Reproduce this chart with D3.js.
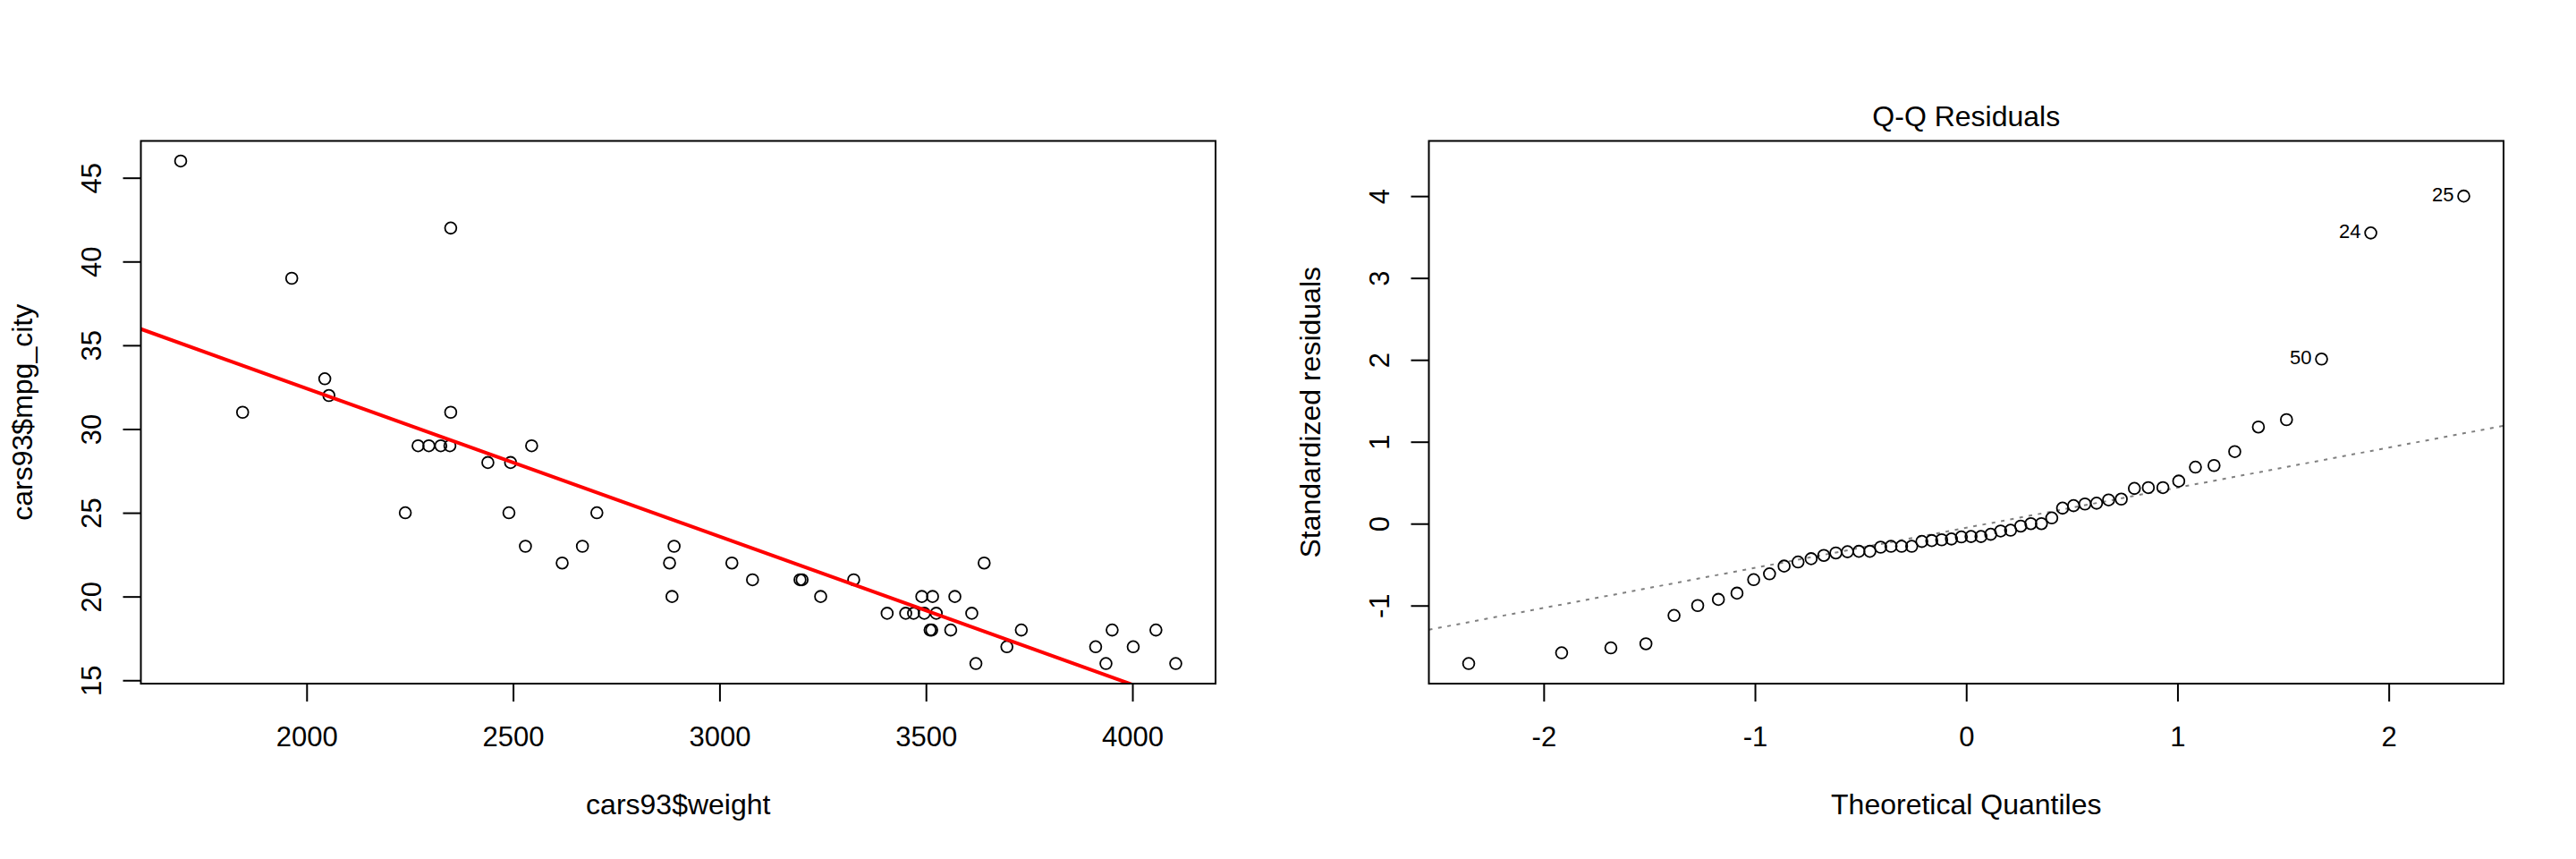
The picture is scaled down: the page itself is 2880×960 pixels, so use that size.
<!DOCTYPE html>
<html>
<head>
<meta charset="utf-8">
<script src="https://cdn.jsdelivr.net/npm/d3@7"></script>
<style>
    body { margin: 0; background: #fff; }
    svg { display: block; }
</style>
</head>
<body>
<svg id="chart" width="2880" height="960"></svg>
<script>
// scatter: cars93$weight vs cars93$mpg_city
const weight = [1695, 1964, 1845, 2044, 2054, 2349, 2349, 2239, 2270, 2296, 2325, 2347, 2439, 2494, 2545,
    2490, 2530, 2619, 2668, 2703, 2890, 2879, 2885, 3030, 3080, 3195, 3200, 3245, 3325, 3406,
    3451, 3470, 3490, 3496, 3516, 3525, 3510, 3514, 3560, 3570, 3611, 3621, 3641, 3696, 3731,
    3911, 3936, 3951, 4002, 4057, 4105];
const mpgCity = [46, 39, 31, 33, 32, 42, 31, 25, 29, 29, 29, 29, 28, 28, 29,
    25, 23, 22, 23, 25, 23, 22, 20, 22, 21, 21, 21, 20, 21, 19,
    19, 19, 20, 19, 20, 19, 18, 18, 18, 20, 19, 16, 22, 17, 18,
    17, 16, 18, 17, 18, 16];
// lm(mpg_city ~ weight): intercept, slope
const fitCoef = [50.1, -0.00884];

const weightTicks = [2000, 2500, 3000, 3500, 4000];
const mpgTicks = [15, 20, 25, 30, 35, 40, 45];

// Q-Q residuals
const theoQuantiles = [-2.355, -1.915, -1.682, -1.516, -1.383, -1.271, -1.173, -1.085, -1.006, -0.931,
    -0.862, -0.796, -0.734, -0.674, -0.617, -0.562, -0.508, -0.456, -0.405, -0.356,
    -0.306, -0.258, -0.210, -0.163, -0.116, -0.070, -0.023, 0.023, 0.070, 0.116,
    0.163, 0.210, 0.258, 0.306, 0.356, 0.405, 0.456, 0.508, 0.562, 0.617,
    0.674, 0.734, 0.796, 0.862, 0.931, 1.006, 1.085, 1.173, 1.271, 1.383,
    1.516, 1.682, 1.915, 2.355];
const stdResiduals = [-1.708, -1.577, -1.517, -1.467, -1.121, -1.000, -0.925, -0.849, -0.684, -0.613,
    -0.518, -0.468, -0.428, -0.388, -0.358, -0.343, -0.338, -0.338, -0.287, -0.277,
    -0.277, -0.277, -0.217, -0.207, -0.197, -0.187, -0.162, -0.157, -0.157, -0.130,
    -0.090, -0.080, -0.030, 0.000, 0.000, 0.070, 0.190, 0.220, 0.240, 0.250,
    0.290, 0.300, 0.430, 0.440, 0.440, 0.520, 0.690, 0.710, 0.880, 1.180,
    1.270, 2.010, 3.550, 4.000];
const outlierLabels = ["50", "24", "25"];   // last three sorted residuals

const qqXTicks = [-2, -1, 0, 1, 2];
const qqYTicks = [-1, 0, 1, 2, 3, 4];

const FONT = "'Liberation Sans', Arial, Helvetica, sans-serif";
const TOP = 157.5, BOTTOM = 764;
const LEFT_PANEL = [157.5, 1359], RIGHT_PANEL = [1597.5, 2799];

// R style 4% padding
function padded(lo, hi) {
    let d = (hi - lo) * 0.04;
    return [lo - d, hi + d];
}

const svg = d3.select("#chart");
svg.append("rect").attr("width", 2880).attr("height", 960).attr("fill", "#fff");
let defs = svg.append("defs");

function drawPanel(id, xr, x, y, xTicks, yTicks, xTitle, yTitle) {
    let g = svg.append("g").attr("class", id);

    defs.append("clipPath").attr("id", "clip-" + id)
        .append("rect")
        .attr("x", xr[0]).attr("y", TOP)
        .attr("width", xr[1] - xr[0]).attr("height", BOTTOM - TOP);

    let xAxis = g.append("g")
        .attr("transform", "translate(0," + BOTTOM + ")")
        .call(d3.axisBottom(x).tickValues(xTicks).tickFormat(d => String(d))
            .tickSize(20).tickSizeOuter(0));
    xAxis.select(".domain").remove();
    xAxis.selectAll("line").attr("stroke", "#000").attr("stroke-width", 2);
    xAxis.selectAll("text")
        .attr("y", 70).attr("dy", null)
        .attr("fill", "#000")
        .style("font-family", FONT).style("font-size", "31px");

    let yAxis = g.append("g")
        .attr("transform", "translate(" + xr[0] + ",0)")
        .call(d3.axisLeft(y).tickValues(yTicks).tickFormat(d => String(d))
            .tickSize(20).tickSizeOuter(0));
    yAxis.select(".domain").remove();
    yAxis.selectAll("line").attr("stroke", "#000").attr("stroke-width", 2);
    yAxis.selectAll("text")
        .attr("x", 0).attr("y", -45).attr("dy", null)
        .attr("transform", "rotate(-90)")
        .attr("text-anchor", "middle")
        .attr("fill", "#000")
        .style("font-family", FONT).style("font-size", "31px");

    g.append("text")
        .text(xTitle)
        .attr("x", (xr[0] + xr[1]) / 2)
        .attr("y", 910)
        .attr("text-anchor", "middle")
        .style("font-family", FONT).style("font-size", "32px");

    g.append("text")
        .text(yTitle)
        .attr("transform", "translate(" + (xr[0] - 122) + "," + (TOP + BOTTOM) / 2 + ") rotate(-90)")
        .attr("text-anchor", "middle")
        .style("font-family", FONT).style("font-size", "32px");

    return g;
}

function drawBox(g, xr) {
    g.append("rect")
        .attr("x", xr[0]).attr("y", TOP)
        .attr("width", xr[1] - xr[0]).attr("height", BOTTOM - TOP)
        .attr("fill", "none")
        .attr("stroke", "#000")
        .attr("stroke-width", 2);
}

// ---- left: scatter with fitted line
let x1 = d3.scaleLinear().domain(padded(...d3.extent(weight))).range(LEFT_PANEL);
let y1 = d3.scaleLinear().domain(padded(...d3.extent(mpgCity))).range([BOTTOM, TOP]);
let g1 = drawPanel("scatter", LEFT_PANEL, x1, y1, weightTicks, mpgTicks, "cars93$weight", "cars93$mpg_city");

g1.append("g")
    .selectAll("circle")
    .data(d3.zip(weight, mpgCity))
    .join("circle")
    .attr("cx", d => x1(d[0]))
    .attr("cy", d => y1(d[1]))
    .attr("r", 6.4)
    .attr("fill", "none")
    .attr("stroke", "#000")
    .attr("stroke-width", 1.8);

let wDom = x1.domain();
g1.append("line")
    .attr("clip-path", "url(#clip-scatter)")
    .attr("x1", x1(wDom[0])).attr("y1", y1(fitCoef[0] + fitCoef[1] * wDom[0]))
    .attr("x2", x1(wDom[1])).attr("y2", y1(fitCoef[0] + fitCoef[1] * wDom[1]))
    .attr("stroke", "#ff0000")
    .attr("stroke-width", 4);
drawBox(g1, LEFT_PANEL);

// ---- right: Q-Q residuals
let rExt = d3.extent(stdResiduals);
rExt[1] += (rExt[1] - rExt[0]) * 0.075;   // room for the point labels, as plot.lm does
let x2 = d3.scaleLinear().domain(padded(...d3.extent(theoQuantiles))).range(RIGHT_PANEL);
let y2 = d3.scaleLinear().domain(padded(...rExt)).range([BOTTOM, TOP]);
let g2 = drawPanel("qq", RIGHT_PANEL, x2, y2, qqXTicks, qqYTicks, "Theoretical Quantiles", "Standardized residuals");

g2.append("text")
    .text("Q-Q Residuals")
    .attr("x", (RIGHT_PANEL[0] + RIGHT_PANEL[1]) / 2)
    .attr("y", 141)
    .attr("text-anchor", "middle")
    .style("font-family", FONT).style("font-size", "32px");

// qqline through the quartiles
let q1 = d3.quantile(stdResiduals, 0.25), q3 = d3.quantile(stdResiduals, 0.75);
let zq = 0.6745;
let slope = (q3 - q1) / (2 * zq), icpt = q1 + zq * slope;
let qDom = x2.domain();
g2.append("line")
    .attr("clip-path", "url(#clip-qq)")
    .attr("x1", x2(qDom[0])).attr("y1", y2(icpt + slope * qDom[0]))
    .attr("x2", x2(qDom[1])).attr("y2", y2(icpt + slope * qDom[1]))
    .attr("stroke", "#808080")
    .attr("stroke-width", 2)
    .attr("stroke-dasharray", "4,6.5");

let qqData = d3.zip(theoQuantiles, stdResiduals);
g2.append("g")
    .selectAll("circle")
    .data(qqData)
    .join("circle")
    .attr("cx", d => x2(d[0]))
    .attr("cy", d => y2(d[1]))
    .attr("r", 6.4)
    .attr("fill", "none")
    .attr("stroke", "#000")
    .attr("stroke-width", 1.8);

g2.append("g")
    .selectAll("text")
    .data(qqData.slice(-outlierLabels.length))
    .join("text")
    .text((d, i) => outlierLabels[i])
    .attr("x", d => x2(d[0]) - 11)
    .attr("y", d => y2(d[1]) + 6)
    .attr("text-anchor", "end")
    .style("font-family", FONT).style("font-size", "22px");
drawBox(g2, RIGHT_PANEL);
</script>
</body>
</html>
